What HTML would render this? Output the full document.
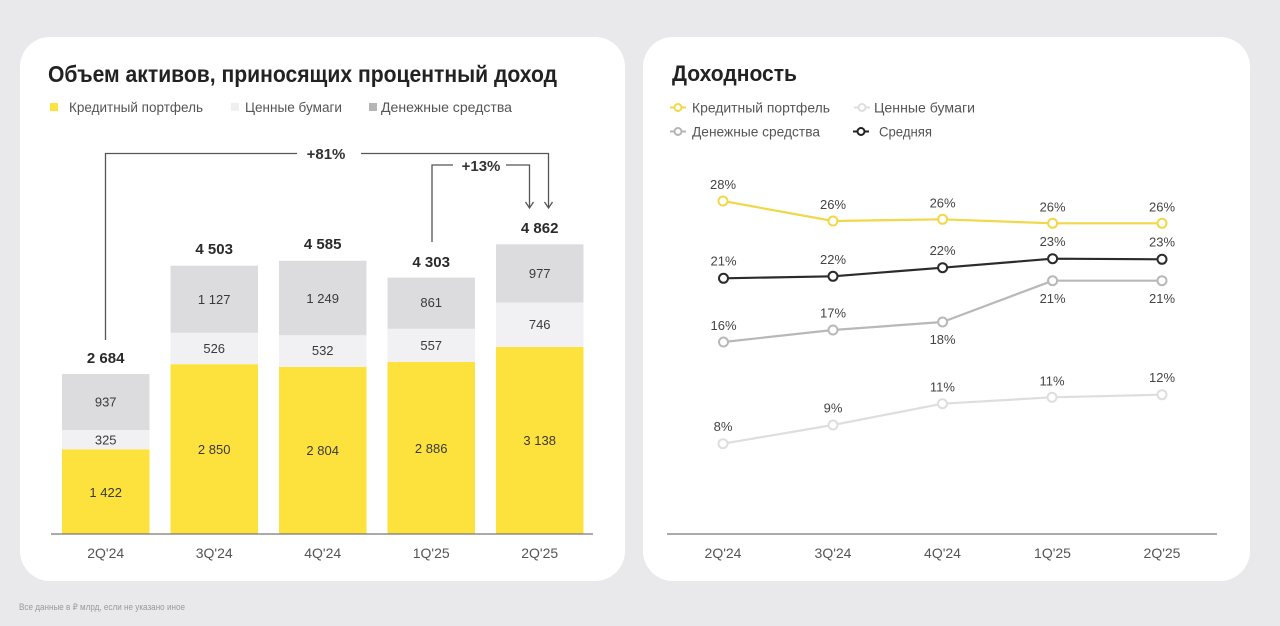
<!DOCTYPE html>
<html><head><meta charset="utf-8"><style>
html,body{margin:0;padding:0;background:#e9e9eb;}
svg{display:block;}
text{font-family:"Liberation Sans","DejaVu Sans",sans-serif;}
</style></head><body>
<svg width="1280" height="626" viewBox="0 0 1280 626" xmlns="http://www.w3.org/2000/svg">
<rect x="0" y="0" width="1280" height="626" fill="#e9e9eb"/>
<rect x="20" y="37" width="605" height="544" rx="30" fill="#ffffff"/>
<rect x="643" y="37" width="607" height="544" rx="30" fill="#ffffff"/>

<!-- LEFT CARD -->
<text x="48" y="82" font-size="23" font-weight="bold" fill="#222" textLength="509" lengthAdjust="spacingAndGlyphs">Объем активов, приносящих процентный доход</text>
<rect x="50" y="103" width="8" height="8" fill="#fde23e"/>
<text x="69" y="112" font-size="14" fill="#555" textLength="134" lengthAdjust="spacingAndGlyphs">Кредитный портфель</text>
<rect x="231" y="103" width="8" height="8" fill="#efeff1"/>
<text x="245" y="112" font-size="14" fill="#555" textLength="97" lengthAdjust="spacingAndGlyphs">Ценные бумаги</text>
<rect x="369" y="103" width="8" height="8" fill="#b5b5b7"/>
<text x="381" y="112" font-size="14" fill="#555" textLength="131" lengthAdjust="spacingAndGlyphs">Денежные средства</text>

<!-- brackets -->
<g stroke="#555" stroke-width="1.3" fill="none">
<polyline points="105.5,340 105.5,153.5 297,153.5"/>
<polyline points="361,153.5 548.5,153.5 548.5,207"/>
<polyline points="432,242 432,165 453,165"/>
<polyline points="506,165 529.5,165 529.5,207"/>
<polyline points="544.5,202 548.5,208 552.5,202"/>
<polyline points="525.5,202 529.5,208 533.5,202"/>
</g>
<text x="326" y="159" font-size="15" font-weight="bold" fill="#333" text-anchor="middle">+81%</text>
<text x="481" y="171" font-size="15" font-weight="bold" fill="#333" text-anchor="middle">+13%</text>

<!-- bars -->
<g>
<rect x="62" y="449.3" width="87.5" height="84.7" fill="#fde23e"/>
<rect x="62" y="430" width="87.5" height="19.3" fill="#f1f1f3"/>
<rect x="62" y="374" width="87.5" height="56" fill="#dcdcde"/>

<rect x="170.5" y="364.2" width="87.5" height="169.8" fill="#fde23e"/>
<rect x="170.5" y="332.8" width="87.5" height="31.4" fill="#f1f1f3"/>
<rect x="170.5" y="265.7" width="87.5" height="67.1" fill="#dcdcde"/>

<rect x="279" y="366.9" width="87.5" height="167.1" fill="#fde23e"/>
<rect x="279" y="335.2" width="87.5" height="31.7" fill="#f1f1f3"/>
<rect x="279" y="260.8" width="87.5" height="74.4" fill="#dcdcde"/>

<rect x="387.5" y="362" width="87.5" height="172" fill="#fde23e"/>
<rect x="387.5" y="328.8" width="87.5" height="33.2" fill="#f1f1f3"/>
<rect x="387.5" y="277.6" width="87.5" height="51.2" fill="#dcdcde"/>

<rect x="496" y="347" width="87.5" height="187" fill="#fde23e"/>
<rect x="496" y="302.5" width="87.5" height="44.5" fill="#f1f1f3"/>
<rect x="496" y="244.3" width="87.5" height="58.2" fill="#dcdcde"/>
</g>
<line x1="51" y1="534" x2="593" y2="534" stroke="#777" stroke-width="1.2"/>

<g font-size="13" fill="#3a3a3a" text-anchor="middle">
<text x="105.7" y="497">1 422</text>
<text x="105.7" y="444.5">325</text>
<text x="105.7" y="406.5">937</text>
<text x="214.2" y="454">2 850</text>
<text x="214.2" y="353">526</text>
<text x="214.2" y="304">1 127</text>
<text x="322.7" y="455">2 804</text>
<text x="322.7" y="355">532</text>
<text x="322.7" y="303">1 249</text>
<text x="431.2" y="453">2 886</text>
<text x="431.2" y="350">557</text>
<text x="431.2" y="307">861</text>
<text x="539.7" y="445">3 138</text>
<text x="539.7" y="329">746</text>
<text x="539.7" y="278">977</text>
</g>
<g font-size="15" font-weight="bold" fill="#2a2a2a" text-anchor="middle">
<text x="105.7" y="363">2 684</text>
<text x="214.2" y="254">4 503</text>
<text x="322.7" y="249">4 585</text>
<text x="431.2" y="267">4 303</text>
<text x="539.7" y="233">4 862</text>
</g>
<g font-size="14" fill="#555" text-anchor="middle">
<text x="105.7" y="558">2Q'24</text>
<text x="214.2" y="558">3Q'24</text>
<text x="322.7" y="558">4Q'24</text>
<text x="431.2" y="558">1Q'25</text>
<text x="539.7" y="558">2Q'25</text>
</g>

<text x="19" y="610" font-size="9" fill="#9a9a9c" textLength="166" lengthAdjust="spacingAndGlyphs">Все данные в ₽ млрд, если не указано иное</text>

<!-- RIGHT CARD -->
<text x="672" y="81" font-size="22" font-weight="bold" fill="#222" textLength="125" lengthAdjust="spacingAndGlyphs">Доходность</text>
<g stroke-width="2" fill="#fff">
<line x1="670" y1="107.5" x2="686" y2="107.5" stroke="#f0d84a"/><circle cx="678" cy="107.5" r="3.5" stroke="#f0d84a"/>
<line x1="854" y1="107.5" x2="870" y2="107.5" stroke="#dedee0"/><circle cx="862" cy="107.5" r="3.5" stroke="#dedee0"/>
<line x1="670" y1="131.5" x2="686" y2="131.5" stroke="#b5b5b7"/><circle cx="678" cy="131.5" r="3.5" stroke="#b5b5b7"/>
<line x1="853" y1="131.5" x2="869" y2="131.5" stroke="#222"/><circle cx="861" cy="131.5" r="3.5" stroke="#222"/>
</g>
<text x="692" y="112.5" font-size="14" fill="#555" textLength="138" lengthAdjust="spacingAndGlyphs">Кредитный портфель</text>
<text x="874" y="112.5" font-size="14" fill="#555" textLength="101" lengthAdjust="spacingAndGlyphs">Ценные бумаги</text>
<text x="692" y="136.5" font-size="14" fill="#555" textLength="128" lengthAdjust="spacingAndGlyphs">Денежные средства</text>
<text x="879" y="136.5" font-size="14" fill="#555" textLength="53" lengthAdjust="spacingAndGlyphs">Средняя</text>

<line x1="667" y1="534" x2="1217" y2="534" stroke="#777" stroke-width="1.2"/>

<g fill="none" stroke-width="2.2" stroke-linejoin="round">
<polyline stroke="#f0d84a" points="723,201 833,221 942.6,219.3 1052.6,223.3 1162,223.3"/>
<polyline stroke="#2b2b2b" points="723.5,278.3 833,276.3 942.6,267.7 1052.6,258.7 1162,259.3"/>
<polyline stroke="#b8b8ba" points="723.5,342 833,330 942.6,322 1052.6,280.7 1162,280.7"/>
<polyline stroke="#dedee0" points="723,443.7 833,425 942.4,403.7 1052,397.3 1162,394.7"/>
</g>
<g fill="#fff" stroke-width="2">
<g stroke="#f0d84a">
<circle cx="723" cy="201" r="4.5"/><circle cx="833" cy="221" r="4.5"/><circle cx="942.6" cy="219.3" r="4.5"/><circle cx="1052.6" cy="223.3" r="4.5"/><circle cx="1162" cy="223.3" r="4.5"/>
</g>
<g stroke="#2b2b2b">
<circle cx="723.5" cy="278.3" r="4.5"/><circle cx="833" cy="276.3" r="4.5"/><circle cx="942.6" cy="267.7" r="4.5"/><circle cx="1052.6" cy="258.7" r="4.5"/><circle cx="1162" cy="259.3" r="4.5"/>
</g>
<g stroke="#b8b8ba">
<circle cx="723.5" cy="342" r="4.5"/><circle cx="833" cy="330" r="4.5"/><circle cx="942.6" cy="322" r="4.5"/><circle cx="1052.6" cy="280.7" r="4.5"/><circle cx="1162" cy="280.7" r="4.5"/>
</g>
<g stroke="#dedee0">
<circle cx="723" cy="443.7" r="4.5"/><circle cx="833" cy="425" r="4.5"/><circle cx="942.4" cy="403.7" r="4.5"/><circle cx="1052" cy="397.3" r="4.5"/><circle cx="1162" cy="394.7" r="4.5"/>
</g>
</g>

<g font-size="13" fill="#444" text-anchor="middle">
<text x="723" y="189">28%</text>
<text x="833" y="209">26%</text>
<text x="942.6" y="207.5">26%</text>
<text x="1052.6" y="211.5">26%</text>
<text x="1162" y="211.5">26%</text>

<text x="723.5" y="265.5">21%</text>
<text x="833" y="264">22%</text>
<text x="942.6" y="255">22%</text>
<text x="1052.6" y="246">23%</text>
<text x="1162" y="246.5">23%</text>

<text x="723.5" y="330">16%</text>
<text x="833" y="317.5">17%</text>
<text x="942.6" y="344">18%</text>
<text x="1052.6" y="303">21%</text>
<text x="1162" y="303">21%</text>

<text x="723" y="431">8%</text>
<text x="833" y="412.5">9%</text>
<text x="942.4" y="391.5">11%</text>
<text x="1052" y="385.5">11%</text>
<text x="1162" y="382">12%</text>
</g>

<g font-size="14" fill="#555" text-anchor="middle">
<text x="723" y="558">2Q'24</text>
<text x="833" y="558">3Q'24</text>
<text x="942.5" y="558">4Q'24</text>
<text x="1052.5" y="558">1Q'25</text>
<text x="1162" y="558">2Q'25</text>
</g>
</svg>
</body></html>
